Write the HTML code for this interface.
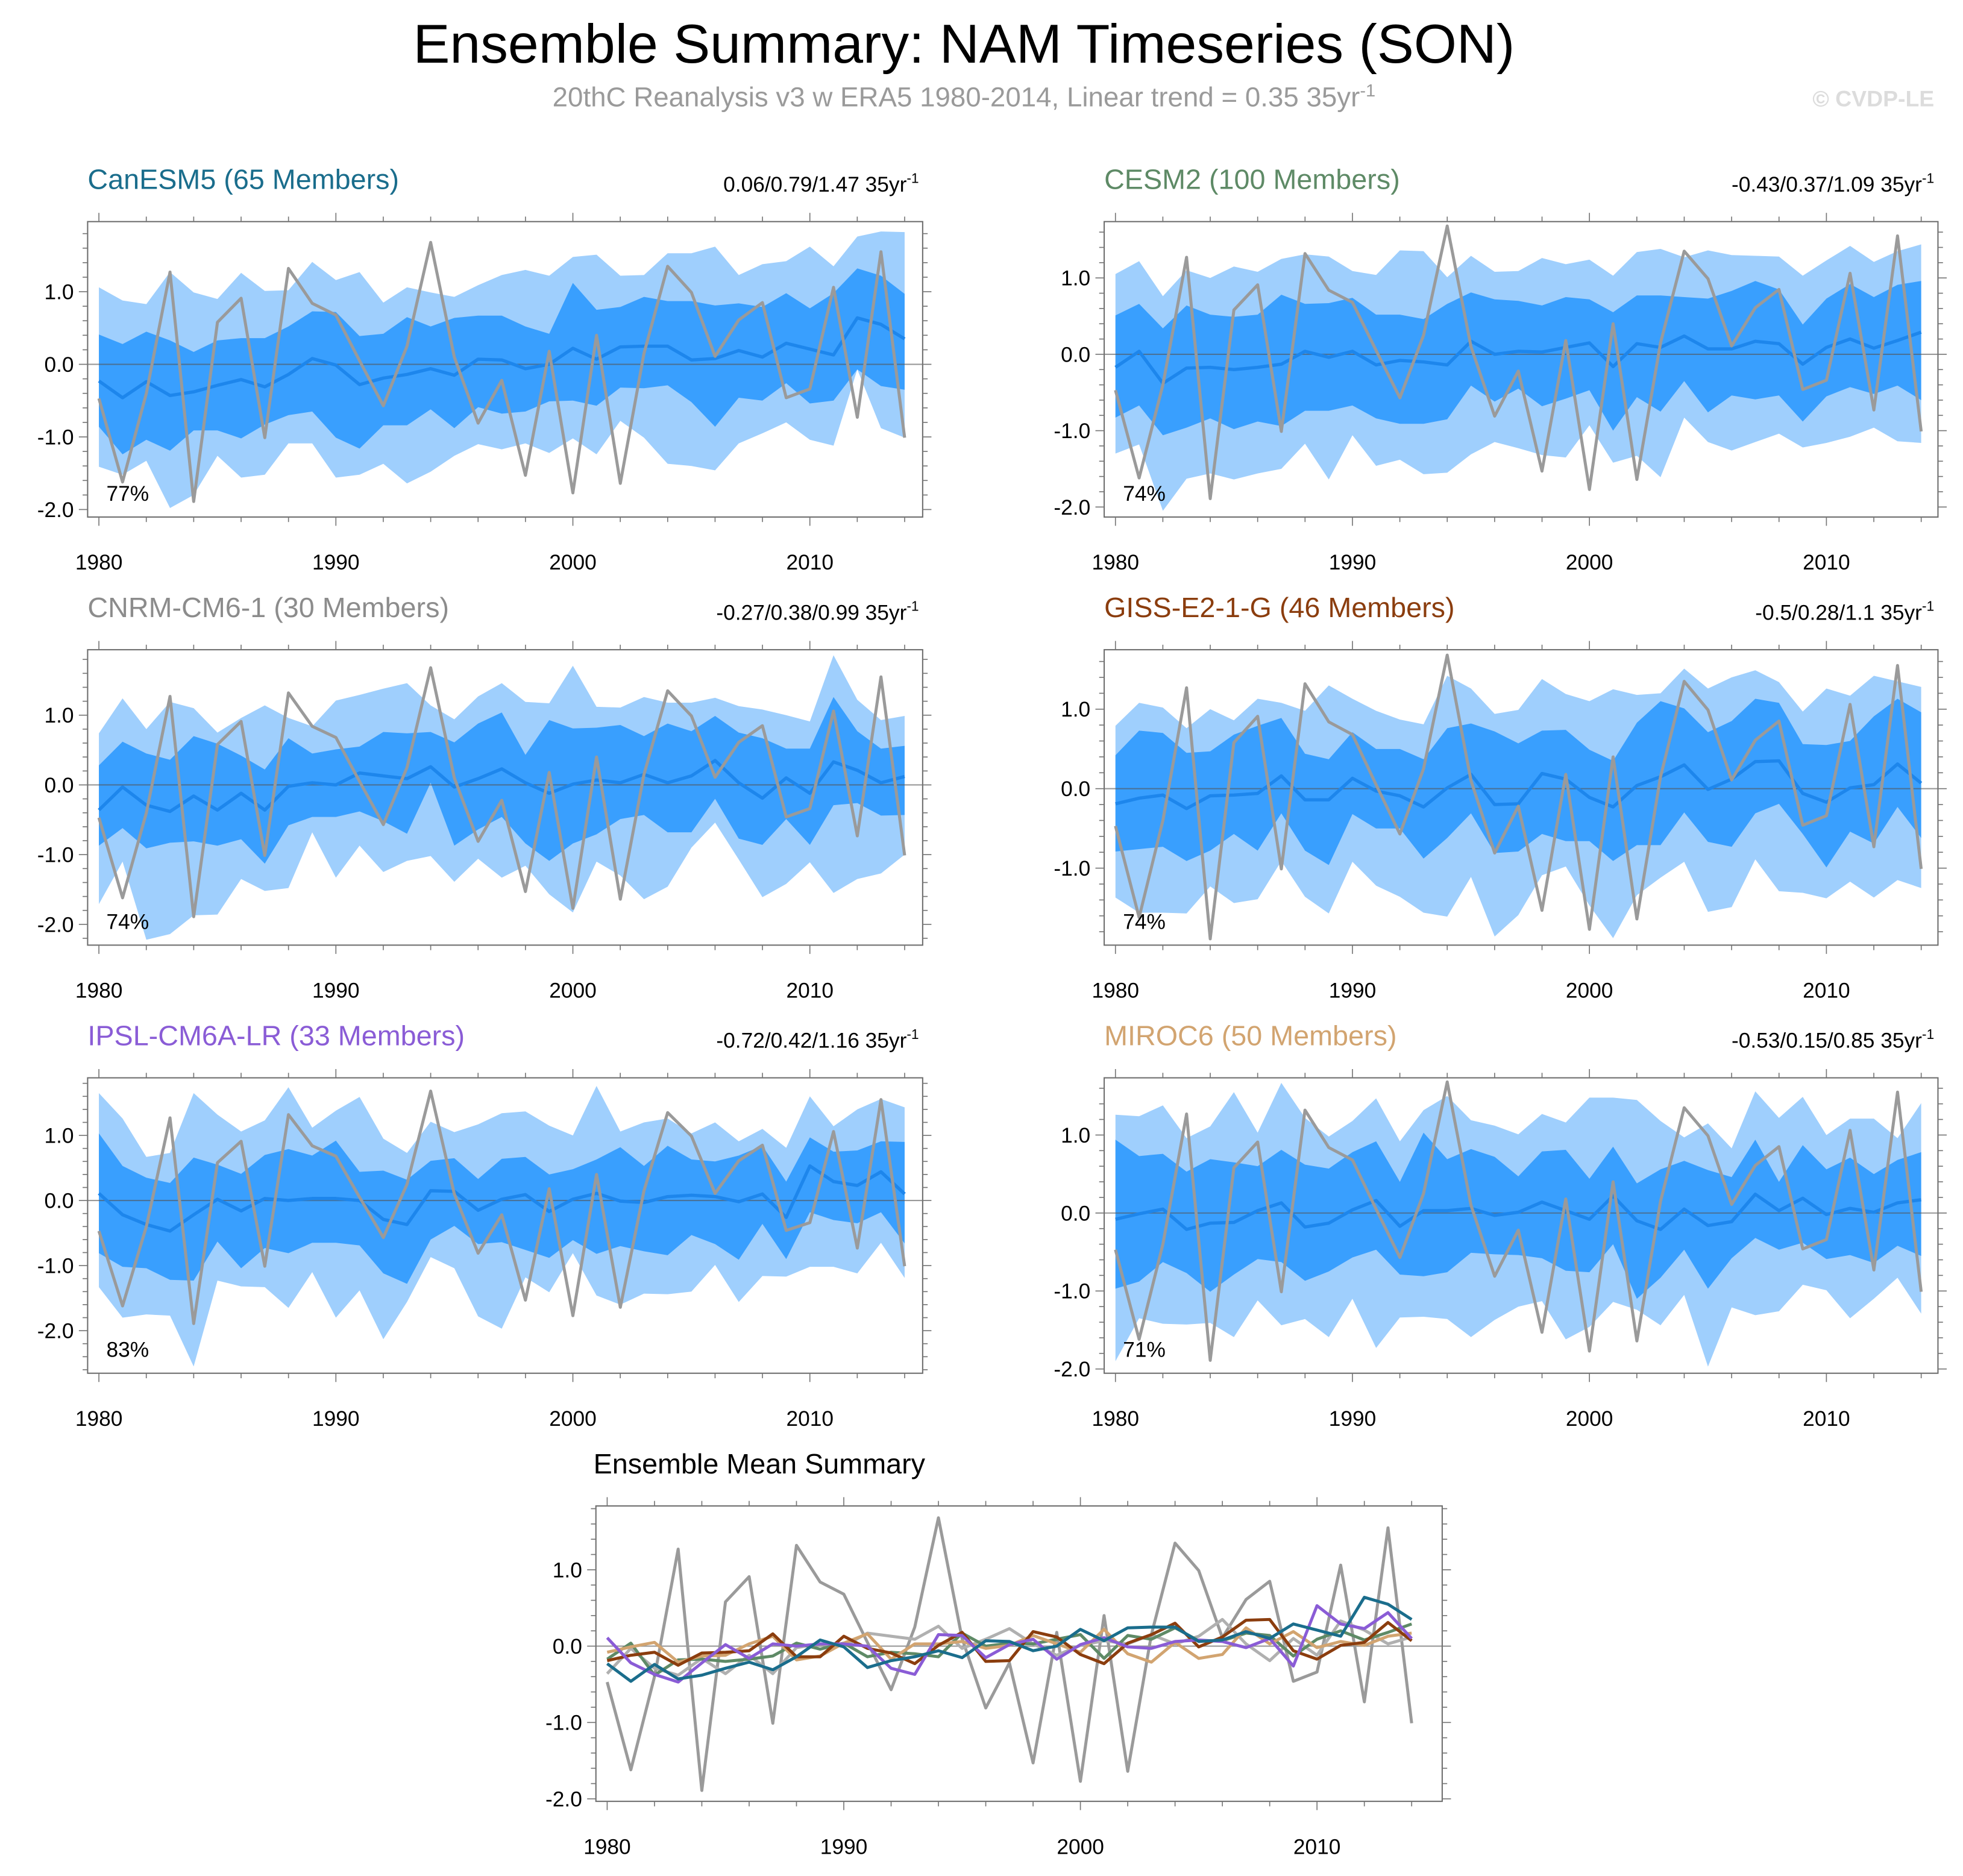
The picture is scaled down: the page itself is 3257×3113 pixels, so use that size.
<!DOCTYPE html>
<html><head><meta charset="utf-8"><style>
html,body{margin:0;padding:0;background:#fff;}
svg{display:block;font-family:"Liberation Sans",sans-serif;}
</style></head><body>
<svg id="chart" width="3257" height="3113" viewBox="0 0 1568 1498.6" xmlns="http://www.w3.org/2000/svg">
<rect x="0" y="0" width="1568" height="1498.6" fill="#fff"/>
<text x="770" y="50" font-size="44" text-anchor="middle" fill="#000">Ensemble Summary: NAM Timeseries (SON)</text>
<text x="770" y="85" font-size="22" text-anchor="middle" fill="#9a9a9a">20thC Reanalysis v3 w ERA5 1980-2014, Linear trend = 0.35 35yr<tspan dy="-8" font-size="14">-1</tspan></text>
<text x="1545" y="85" font-size="18" font-weight="bold" text-anchor="end" fill="#dcdcdc">© CVDP-LE</text>
<g id="panels"></g>
</svg>
<script>
const years = [1980,1981,1982,1983,1984,1985,1986,1987,1988,1989,1990,1991,1992,1993,1994,1995,1996,1997,1998,1999,2000,2001,2002,2003,2004,2005,2006,2007,2008,2009,2010,2011,2012,2013,2014];
const obs = [-0.47,-1.62,-0.4,1.27,-1.89,0.58,0.91,-1.01,1.32,0.84,0.68,0.05,-0.57,0.25,1.68,0.1,-0.81,-0.22,-1.53,0.18,-1.77,0.4,-1.64,0.15,1.35,0.99,0.11,0.61,0.85,-0.46,-0.34,1.06,-0.73,1.55,-1.01];

const canMean = [-0.23,-0.46,-0.24,-0.43,-0.38,-0.29,-0.21,-0.31,-0.14,0.08,-0.01,-0.28,-0.19,-0.14,-0.06,-0.15,0.07,0.06,-0.06,0,0.22,0.07,0.24,0.25,0.25,0.06,0.08,0.19,0.1,0.29,0.21,0.13,0.64,0.55,0.35];
const canHi1 = [0.41,0.28,0.45,0.33,0.17,0.33,0.36,0.36,0.52,0.73,0.72,0.39,0.42,0.65,0.52,0.64,0.67,0.67,0.52,0.42,1.12,0.75,0.79,0.93,0.87,0.87,0.81,0.84,0.79,0.98,0.77,0.98,1.32,1.22,0.97];
const canHi2 = [1.06,0.88,0.83,1.27,0.99,0.9,1.26,1.01,1.02,1.41,1.16,1.27,0.85,1.06,0.99,0.93,1.09,1.23,1.3,1.22,1.48,1.51,1.22,1.23,1.53,1.53,1.62,1.23,1.38,1.42,1.62,1.35,1.76,1.83,1.82];
const canLo1 = [-0.86,-1.24,-1.04,-1.19,-0.91,-0.91,-1.02,-0.83,-0.7,-0.65,-1.01,-1.16,-0.84,-0.84,-0.62,-0.88,-0.59,-0.68,-0.65,-0.51,-0.5,-0.57,-0.32,-0.33,-0.29,-0.52,-0.86,-0.46,-0.5,-0.26,-0.54,-0.5,-0.07,-0.3,-0.35];
const canLo2 = [-1.41,-1.52,-1.33,-1.98,-1.8,-1.26,-1.56,-1.52,-1.09,-1.09,-1.56,-1.52,-1.37,-1.64,-1.48,-1.26,-1.1,-1.17,-1.09,-1.22,-1.02,-1.24,-0.78,-1.01,-1.37,-1.4,-1.46,-1.09,-0.95,-0.8,-1.04,-1.12,-0.07,-0.88,-1.01];

const cesmMean = [-0.17,0.04,-0.38,-0.18,-0.17,-0.2,-0.17,-0.13,0.04,-0.04,0.04,-0.14,-0.08,-0.1,-0.14,0.17,0,0.04,0.03,0.09,0.15,-0.16,0.14,0.09,0.24,0.07,0.07,0.17,0.14,-0.13,0.09,0.2,0.08,0.18,0.29];
const cesmHi1 = [0.51,0.66,0.34,0.64,0.52,0.49,0.52,0.78,0.66,0.67,0.74,0.52,0.52,0.46,0.66,0.81,0.72,0.7,0.64,0.75,0.72,0.55,0.77,0.77,0.75,0.73,0.83,0.96,0.85,0.39,0.73,0.92,0.75,0.91,0.96];
const cesmHi2 = [1.05,1.22,0.76,1.1,1.0,1.15,1.08,1.25,1.31,1.28,1.09,1.04,1.36,1.35,1.01,1.29,1.08,1.09,1.26,1.18,1.24,1.03,1.34,1.38,1.27,1.36,1.3,1.29,1.28,1.03,1.23,1.42,1.21,1.35,1.44];
const cesmLo1 = [-0.83,-0.67,-1.06,-0.96,-0.84,-0.98,-0.88,-0.94,-0.74,-0.74,-0.67,-0.84,-0.91,-0.91,-0.85,-0.41,-0.62,-0.45,-0.68,-0.58,-0.47,-1.0,-0.56,-0.75,-0.35,-0.76,-0.54,-0.59,-0.54,-0.88,-0.55,-0.43,-0.52,-0.41,-0.6];
const cesmLo2 = [-1.3,-1.18,-2.05,-1.63,-1.56,-1.64,-1.56,-1.5,-1.17,-1.64,-1.06,-1.46,-1.38,-1.57,-1.55,-1.31,-1.15,-1.23,-1.32,-1.35,-0.93,-1.42,-1.33,-1.61,-0.83,-1.15,-1.26,-1.15,-1.04,-1.22,-1.16,-1.08,-0.96,-1.14,-1.16];

const cnrmMean = [-0.36,-0.03,-0.29,-0.38,-0.16,-0.36,-0.12,-0.36,-0.02,0.03,0,0.17,0.13,0.09,0.26,-0.03,0.09,0.23,0.03,-0.12,0.01,0.07,0.03,0.15,0.03,0.13,0.35,0.03,-0.19,0.1,-0.12,0.33,0.21,0.03,0.12];
const cnrmHi1 = [0.28,0.62,0.45,0.36,0.7,0.59,0.42,0.22,0.67,0.45,0.51,0.55,0.76,0.74,0.76,0.61,0.88,1.04,0.43,0.93,0.81,0.82,0.86,0.7,0.88,0.77,0.99,0.75,0.67,0.52,0.52,1.26,0.77,0.52,0.56];
const cnrmHi2 = [0.74,1.24,0.8,1.19,1.1,0.75,0.96,1.14,0.96,0.84,1.21,1.29,1.38,1.46,1.14,0.94,1.27,1.46,1.19,1.17,1.71,1.12,1.11,1.26,1.18,1.18,1.25,1.13,1.08,1.0,0.91,1.86,1.22,0.93,0.99];
const cnrmLo1 = [-0.87,-0.62,-0.91,-0.83,-0.81,-0.87,-0.78,-1.13,-0.58,-0.46,-0.46,-0.38,-0.52,-0.7,0.03,-0.87,-0.64,-0.46,-0.84,-1.09,-0.84,-0.71,-0.49,-0.43,-0.68,-0.68,-0.2,-0.77,-0.86,-0.49,-0.86,-0.29,-0.26,-0.44,-0.43];
const cnrmLo2 = [-1.71,-1.1,-2.22,-2.14,-1.87,-1.86,-1.35,-1.52,-1.48,-0.68,-1.33,-0.87,-1.25,-1.09,-1.02,-1.39,-1.06,-1.33,-1.16,-1.57,-1.83,-1.1,-1.3,-1.64,-1.46,-0.9,-0.54,-1.07,-1.61,-1.42,-1.11,-1.55,-1.35,-1.27,-1.0];

const gissMean = [-0.19,-0.12,-0.08,-0.25,-0.09,-0.08,-0.06,0.16,-0.14,-0.14,0.13,-0.03,-0.09,-0.23,0.01,0.18,-0.2,-0.19,0.19,0.12,-0.11,-0.23,0.04,0.15,0.3,-0.01,0.12,0.34,0.35,-0.06,-0.17,0.01,0.05,0.31,0.07];
const gissHi1 = [0.42,0.73,0.7,0.45,0.47,0.68,0.79,0.89,0.44,0.37,0.71,0.5,0.5,0.37,0.76,0.82,0.72,0.57,0.73,0.74,0.49,0.35,0.83,1.1,1.01,0.71,0.85,1.13,1.08,0.56,0.55,0.6,0.91,1.13,0.96];
const gissHi2 = [0.79,1.08,1.02,0.76,1.0,0.86,1.13,1.08,0.98,1.3,1.13,0.98,0.87,0.81,1.42,1.26,0.94,0.99,1.38,1.19,1.1,1.25,1.18,1.2,1.51,1.26,1.4,1.49,1.34,0.97,1.26,1.17,1.42,1.35,1.28];
const gissLo1 = [-0.79,-0.76,-0.73,-0.91,-0.78,-0.57,-0.78,-0.31,-0.78,-0.96,-0.32,-0.5,-0.5,-0.88,-0.62,-0.31,-0.81,-0.79,-0.57,-0.66,-0.66,-0.91,-0.71,-0.71,-0.3,-0.67,-0.73,-0.31,-0.19,-0.57,-0.99,-0.54,-0.69,-0.23,-0.62];
const gissLo2 = [-1.37,-1.56,-1.56,-1.57,-1.23,-1.44,-1.39,-0.91,-1.36,-1.57,-0.92,-1.22,-1.36,-1.56,-1.61,-1.11,-1.86,-1.59,-1.09,-0.98,-1.47,-1.88,-1.34,-1.12,-0.92,-1.55,-1.49,-0.89,-1.29,-1.31,-1.38,-1.17,-1.37,-1.15,-1.25];

const ipslMean = [0.11,-0.22,-0.37,-0.47,-0.22,0.02,-0.16,0.03,0,0.03,0.03,0,-0.29,-0.37,0.15,0.14,-0.15,0.02,0.09,-0.17,0.02,0.11,-0.01,-0.03,0.06,0.08,0.06,-0.02,0.1,-0.26,0.53,0.29,0.23,0.44,0.1];
const ipslHi1 = [1.03,0.53,0.35,0.27,0.66,0.55,0.41,0.7,0.79,0.69,0.92,0.44,0.46,0.32,0.61,0.65,0.33,0.64,0.67,0.4,0.48,0.63,0.82,0.53,0.84,0.63,0.6,0.69,0.84,0.29,0.97,0.75,0.77,0.91,0.9];
const ipslHi2 = [1.65,1.26,0.67,0.73,1.65,1.32,1.06,1.23,1.74,1.12,1.38,1.59,0.95,0.73,1.21,1.05,1.17,1.34,1.37,1.15,1.0,1.76,1.06,1.2,1.26,1.03,1.2,0.91,1.1,0.81,1.6,1.14,1.4,1.56,1.43];
const ipslLo1 = [-0.81,-1.02,-1.04,-1.22,-1.23,-0.63,-1.04,-0.73,-0.81,-0.65,-0.65,-0.69,-1.12,-1.28,-0.6,-0.39,-0.67,-0.64,-0.76,-0.88,-0.61,-0.82,-0.7,-0.78,-0.84,-0.53,-0.67,-0.91,-0.36,-0.9,-0.18,-0.3,-0.35,-0.18,-0.66];
const ipslLo2 = [-1.33,-1.8,-1.75,-1.77,-2.55,-1.23,-1.32,-1.33,-1.65,-1.1,-1.8,-1.38,-2.13,-1.56,-0.87,-1.04,-1.78,-1.97,-1.18,-1.41,-0.81,-1.46,-1.6,-1.43,-1.44,-1.4,-0.99,-1.56,-1.16,-1.17,-1.02,-1.02,-1.12,-0.65,-1.19];

const mirocMean = [-0.08,-0.01,0.05,-0.21,-0.13,-0.12,0.03,0.13,-0.18,-0.13,0.04,0.16,-0.17,0.03,0.03,0.06,-0.03,0.01,0.14,0.03,-0.08,0.22,-0.1,-0.21,0.05,-0.16,-0.11,0.24,0.03,0.19,-0.02,0.06,0.01,0.13,0.17];
const mirocHi1 = [0.94,0.73,0.76,0.53,0.69,0.65,0.6,0.81,0.62,0.57,0.78,0.92,0.4,1.03,0.69,0.82,0.72,0.47,0.79,0.81,0.44,0.85,0.38,0.56,0.67,0.55,0.46,0.94,0.4,0.87,0.56,0.71,0.5,0.68,0.78];
const mirocHi2 = [1.26,1.24,1.38,0.96,1.11,1.55,1.03,1.67,1.22,0.98,1.18,1.47,0.92,1.32,1.5,1.19,1.12,1.01,1.27,1.16,1.48,1.48,1.45,1.18,0.97,1.15,0.83,1.56,1.22,1.49,1.0,1.21,1.21,0.96,1.41];
const mirocLo1 = [-0.97,-0.88,-0.63,-0.77,-1.01,-0.79,-0.59,-0.63,-0.87,-0.75,-0.57,-0.47,-0.79,-0.81,-0.76,-0.51,-0.53,-0.54,-0.58,-0.74,-0.76,-0.4,-1.1,-0.83,-0.47,-0.97,-0.58,-0.32,-0.47,-0.38,-0.59,-0.54,-0.64,-0.42,-0.55];
const mirocLo2 = [-1.9,-1.35,-1.42,-1.43,-1.41,-1.59,-1.12,-1.44,-1.36,-1.59,-1.1,-1.73,-1.34,-1.33,-1.36,-1.59,-1.37,-1.2,-1.13,-1.62,-1.46,-1.14,-1.24,-1.44,-1.05,-1.97,-1.21,-1.31,-1.26,-0.92,-0.99,-1.35,-1.1,-0.83,-1.29];

const yTickLabels = ["1.0","0.0","-1.0","-2.0"];
const yTickValues = [1,0,-1,-2];
const xTickLabels = ["1980","1990","2000","2010"];

const NS = "http://www.w3.org/2000/svg";
const root = document.getElementById("panels");
function mk(tag, attrs, parent){
  const e = document.createElementNS(NS, tag);
  for (const k in attrs) e.setAttribute(k, attrs[k]);
  (parent||root).appendChild(e);
  return e;
}
function makeAxes(P){
  const xs = v => P.xa + (v-1980)*P.xs;
  const ys = v => P.y0 - v*P.ys;
  const vmin = (P.y0 - P.bot)/P.ys, vmax = (P.y0 - P.top)/P.ys;
  return {xs, ys, vmin, vmax};
}
function drawFrame(P, A, g){
  const box = mk("rect",{x:P.left,y:P.top,width:P.right-P.left,height:P.bot-P.top,fill:"none",stroke:"#6e6e6e","stroke-width":1},g);
  
  
  for (let k=Math.ceil(A.vmin*5); k<=Math.floor(A.vmax*5); k++){
    const v=k/5, y=A.ys(v), major = (k%5===0);
    const len = major?7:4;
    mk("line",{x1:P.left,x2:P.left-len,y1:y,y2:y,stroke:"#777","stroke-width":0.8},g);
    mk("line",{x1:P.right,x2:P.right+len,y1:y,y2:y,stroke:"#777","stroke-width":0.8},g);
  }
  yTickValues.forEach((v,i)=>{
    if (v < A.vmin-0.01 || v > A.vmax+0.01) return;
    const t = mk("text",{x:P.left-11,y:A.ys(v)+6,"font-size":17,"text-anchor":"end",fill:"#000"},g);
    t.textContent = yTickLabels[i];
    
    
  });
  for (let yr=1980; yr<=2014; yr+=2){
    const x=A.xs(yr), major=(yr%10===0), len=major?7:4;
    mk("line",{x1:x,x2:x,y1:P.bot,y2:P.bot+len,stroke:"#777","stroke-width":0.8},g);
    mk("line",{x1:x,x2:x,y1:P.top,y2:P.top-len,stroke:"#777","stroke-width":0.8},g);
  }
  xTickLabels.forEach(l=>{
    const t = mk("text",{x:A.xs(+l),y:P.bot+42,"font-size":17,"text-anchor":"middle",fill:"#000"},g);
    t.textContent = l;
    
    
  });
}
function linePts(A, arr){ return arr.map((v,i)=>A.xs(years[i]).toFixed(1)+","+A.ys(v).toFixed(1)).join(" "); }
function bandPts(A, hi, lo){
  const a = hi.map((v,i)=>A.xs(years[i]).toFixed(1)+","+A.ys(v).toFixed(1));
  const b = lo.map((v,i)=>A.xs(years[i]).toFixed(1)+","+A.ys(v).toFixed(1)).reverse();
  return a.concat(b).join(" ");
}
const panels = [
  {id:"canesm5",name:"CanESM5 (65 Members)",color:"#1a6d8c",stats:"0.06/0.79/1.47 35yr",pct:"77%",left:70,right:737,top:177,bot:413,xa:79,xs:18.93,y0:291,ys:58,mean:canMean,hi1:canHi1,hi2:canHi2,lo1:canLo1,lo2:canLo2},
  {id:"cesm2",name:"CESM2 (100 Members)",color:"#5e8a66",stats:"-0.43/0.37/1.09 35yr",pct:"74%",left:882,right:1548,top:177,bot:413,xa:891,xs:18.93,y0:283,ys:61,mean:cesmMean,hi1:cesmHi1,hi2:cesmHi2,lo1:cesmLo1,lo2:cesmLo2},
  {id:"cnrm-cm6-1",name:"CNRM-CM6-1 (30 Members)",color:"#8c8c8c",stats:"-0.27/0.38/0.99 35yr",pct:"74%",left:70,right:737,top:519,bot:755,xa:79,xs:18.93,y0:627,ys:55.7,mean:cnrmMean,hi1:cnrmHi1,hi2:cnrmHi2,lo1:cnrmLo1,lo2:cnrmLo2},
  {id:"giss-e2-1-g",name:"GISS-E2-1-G (46 Members)",color:"#8b3d0e",stats:"-0.5/0.28/1.1 35yr",pct:"74%",left:882,right:1548,top:519,bot:755,xa:891,xs:18.93,y0:630,ys:63.5,mean:gissMean,hi1:gissHi1,hi2:gissHi2,lo1:gissLo1,lo2:gissLo2},
  {id:"ipsl-cm6a-lr",name:"IPSL-CM6A-LR (33 Members)",color:"#8a5cd6",stats:"-0.72/0.42/1.16 35yr",pct:"83%",left:70,right:737,top:861,bot:1097,xa:79,xs:18.93,y0:959,ys:52,mean:ipslMean,hi1:ipslHi1,hi2:ipslHi2,lo1:ipslLo1,lo2:ipslLo2},
  {id:"miroc6",name:"MIROC6 (50 Members)",color:"#d2a470",stats:"-0.53/0.15/0.85 35yr",pct:"71%",left:882,right:1548,top:861,bot:1097,xa:891,xs:18.93,y0:969,ys:62.3,mean:mirocMean,hi1:mirocHi1,hi2:mirocHi2,lo1:mirocLo1,lo2:mirocLo2}
];
panels.forEach(P=>{
  const g = mk("g",{});
  
  
  const A = makeAxes(P);
  const cp = mk("clipPath",{id:"clip-"+P.id},g);
  mk("rect",{x:P.left,y:P.top,width:P.right-P.left,height:P.bot-P.top},cp);
  const pg = mk("g",{"clip-path":"url(#clip-"+P.id+")"},g);
  const outer = mk("polygon",{points:bandPts(A,P.hi2,P.lo2),fill:"#9fcffd"},pg);
  
  
  const inner = mk("polygon",{points:bandPts(A,P.hi1,P.lo1),fill:"#399ffe"},pg);
  
  
  mk("line",{x1:P.left,x2:P.right,y1:A.ys(0),y2:A.ys(0),stroke:"#555","stroke-opacity":0.6,"stroke-width":1},pg);
  const ml = mk("polyline",{points:linePts(A,P.mean),fill:"none",stroke:"#1d86ec","stroke-width":2.6,"stroke-linejoin":"round"},pg);
  
  
  const ol = mk("polyline",{points:linePts(A,obs),fill:"none",stroke:"#9a9a9a","stroke-width":2.4,"stroke-linejoin":"round"},pg);
  
  
  drawFrame(P,A,g);
  const t = mk("text",{x:P.left,y:P.top-26,"font-size":22.5,fill:P.color},g);
  t.textContent = P.name;
  
  
  const s = mk("text",{x:P.right-3,y:P.top-24,"font-size":17,"text-anchor":"end",fill:"#000"},g);
  s.textContent = P.stats;
  const sup = mk("tspan",{dy:-7,"font-size":11},s);
  sup.textContent = "-1";
  
  
  const pc = mk("text",{x:P.left+15,y:P.bot-13,"font-size":17,fill:"#000"},g);
  pc.textContent = P.pct;
  
  
});
(function(){
  const P = {id:"ensemble-mean-summary",left:476,right:1152,top:1203,bot:1439,xa:485,xs:18.9,y0:1315,ys:61};
  const g = mk("g",{});
  
  
  const A = makeAxes(P);
  const cp = mk("clipPath",{id:"clip-sum"},g);
  mk("rect",{x:P.left,y:P.top,width:P.right-P.left,height:P.bot-P.top},cp);
  const pg = mk("g",{"clip-path":"url(#clip-sum)"},g);
  mk("line",{x1:P.left,x2:P.right,y1:A.ys(0),y2:A.ys(0),stroke:"#555","stroke-opacity":0.6,"stroke-width":1},pg);
  const ol = mk("polyline",{points:linePts(A,obs),fill:"none",stroke:"#9a9a9a","stroke-width":2.4,"stroke-linejoin":"round"},pg);
  
  
  const order = [2,1,5,3,4,0];
  order.forEach(pi=>{
    const p = panels[pi];
    const l = mk("polyline",{points:linePts(A,p.mean),fill:"none",stroke:p.id==="cnrm-cm6-1"?"#b0b0b0":p.color,"stroke-width":2.4,"stroke-linejoin":"round"},pg);
    
    
  });
  drawFrame(P,A,g);
  const t = mk("text",{x:474,y:1177,"font-size":22.5,fill:"#000"},g);
  t.textContent = "Ensemble Mean Summary";
  
  
})();
</script>
</body></html>
